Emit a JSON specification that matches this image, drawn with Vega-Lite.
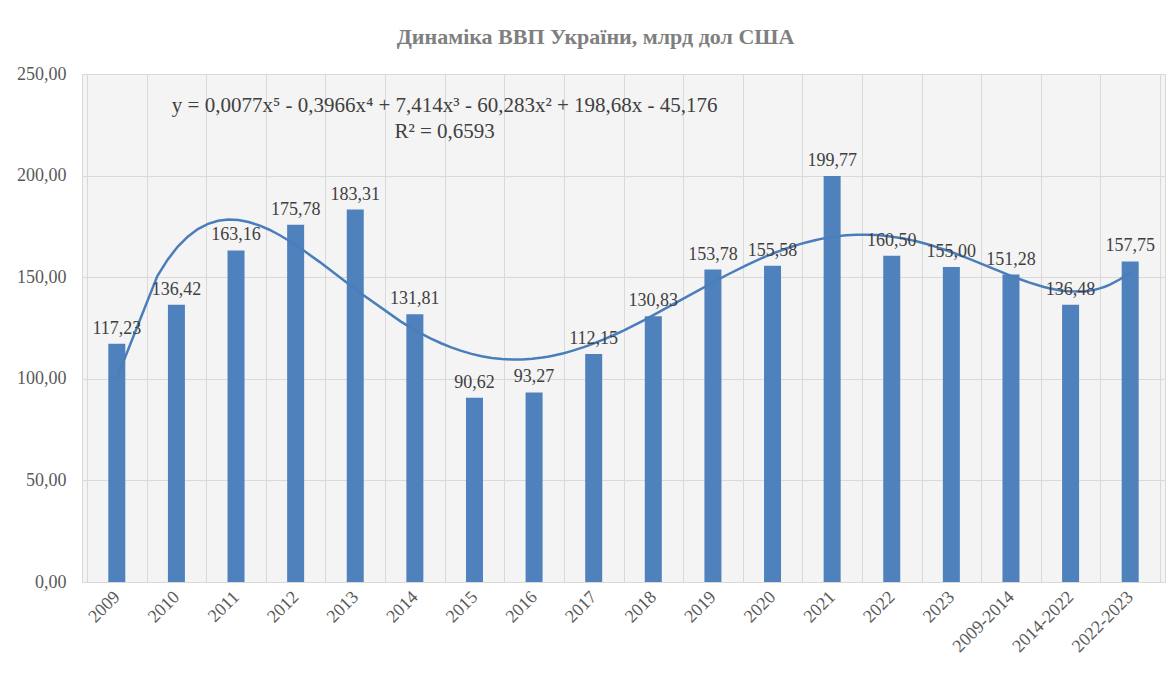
{
  "$schema": "https://vega.github.io/schema/vega-lite/v6.json",
  "width": 1083,
  "height": 508,
  "autosize": {"type": "pad"},
  "padding": {"left": 16, "top": 26, "right": 8, "bottom": 5},
  "background": "white",
  "config": {
    "locale": {"number": {"decimal": ",", "thousands": " ", "grouping": [3], "currency": ["", ""]}},
    "font": "Liberation Serif",
    "view": {"stroke": "#d9d9d9", "fill": "#f4f4f4"}
  },
  "title": {
    "text": "Динаміка ВВП України, млрд дол США",
    "font": "Liberation Serif",
    "fontSize": 22,
    "fontWeight": "bold",
    "color": "#7f7f7f",
    "anchor": "middle",
    "dx": -28,
    "offset": 16
  },
  "datasets": {
    "gdp": [
      {"idx": 1, "year": "2009", "gdp": 117.23},
      {"idx": 2, "year": "2010", "gdp": 136.42},
      {"idx": 3, "year": "2011", "gdp": 163.16},
      {"idx": 4, "year": "2012", "gdp": 175.78},
      {"idx": 5, "year": "2013", "gdp": 183.31},
      {"idx": 6, "year": "2014", "gdp": 131.81},
      {"idx": 7, "year": "2015", "gdp": 90.62},
      {"idx": 8, "year": "2016", "gdp": 93.27},
      {"idx": 9, "year": "2017", "gdp": 112.15},
      {"idx": 10, "year": "2018", "gdp": 130.83},
      {"idx": 11, "year": "2019", "gdp": 153.78},
      {"idx": 12, "year": "2020", "gdp": 155.58},
      {"idx": 13, "year": "2021", "gdp": 199.77},
      {"idx": 14, "year": "2022", "gdp": 160.50},
      {"idx": 15, "year": "2023", "gdp": 155.00},
      {"idx": 16, "year": "2009-2014", "gdp": 151.28},
      {"idx": 17, "year": "2014-2022", "gdp": 136.48},
      {"idx": 18, "year": "2022-2023", "gdp": 157.75}
    ],
    "note": [
      {"idx": 6.5, "gdp": 234.3, "t": ["y = 0,0077x⁵  - 0,3966x⁴  + 7,414x³  - 60,283x²  + 198,68x  - 45,176", "R² = 0,6593"]}
    ]
  },
  "resolve": {"axis": {"x": "independent"}},
  "layer": [
    {
      "data": {"name": "gdp"},
      "mark": {"type": "bar", "size": 17, "color": "#4f81bd"},
      "encoding": {
        "x": {
          "field": "idx", "type": "quantitative",
          "scale": {"domain": [0.5, 18.5], "nice": false, "zero": false},
          "axis": {
            "orient": "bottom",
            "values": [1,2,3,4,5,6,7,8,9,10,11,12,13,14,15,16,17,18],
            "labelExpr": "['2009','2010','2011','2012','2013','2014','2015','2016','2017','2018','2019','2020','2021','2022','2023','2009-2014','2014-2022','2022-2023'][datum.value - 1]",
            "labelAngle": -45,
            "labelAlign": "right",
            "labelBaseline": "middle",
            "labelPadding": 12,
            "labelFontSize": 18,
            "labelColor": "#595959",
            "labelFont": "Liberation Serif",
            "labelOverlap": false,
            "labelBound": false,
            "ticks": false,
            "domain": false,
            "grid": false,
            "title": null
          }
        },
        "y": {
          "field": "gdp", "type": "quantitative",
          "scale": {"domain": [0, 250], "nice": false},
          "axis": {
            "values": [0,50,100,150,200,250],
            "format": ".2f",
            "labelFontSize": 18,
            "labelColor": "#595959",
            "labelFont": "Liberation Serif",
            "labelPadding": 16,
            "ticks": false,
            "domain": false,
            "grid": true,
            "gridColor": "#d9d9d9",
            "gridWidth": 1,
            "title": null
          }
        }
      }
    },
    {
      "data": {"name": "gdp"},
      "transform": [{"regression": "gdp", "on": "idx", "method": "poly", "order": 5}],
      "mark": {"type": "line", "color": "#4a7ebb", "strokeWidth": 2.5},
      "encoding": {
        "x": {
          "field": "idx", "type": "quantitative",
          "axis": {
            "orient": "top",
            "values": [0.5,1.5,2.5,3.5,4.5,5.5,6.5,7.5,8.5,9.5,10.5,11.5,12.5,13.5,14.5,15.5,16.5,17.5,18.5],
            "labels": false,
            "ticks": false,
            "domain": false,
            "grid": true,
            "gridColor": "#d9d9d9",
            "title": null
          }
        },
        "y": {"field": "gdp", "type": "quantitative"}
      }
    },
    {
      "data": {"name": "gdp"},
      "mark": {"type": "text", "baseline": "bottom", "dy": -6, "fontSize": 18, "color": "#404040", "font": "Liberation Serif"},
      "encoding": {
        "x": {"field": "idx", "type": "quantitative", "axis": null},
        "y": {"field": "gdp", "type": "quantitative"},
        "text": {"field": "gdp", "type": "quantitative", "format": ".2f"}
      }
    },
    {
      "data": {"name": "note"},
      "mark": {"type": "text", "baseline": "middle", "align": "center", "fontSize": 21, "lineHeight": 26, "color": "#404040", "font": "Liberation Serif"},
      "encoding": {
        "x": {"field": "idx", "type": "quantitative", "axis": null},
        "y": {"field": "gdp", "type": "quantitative"},
        "text": {"field": "t"}
      }
    }
  ]
}
